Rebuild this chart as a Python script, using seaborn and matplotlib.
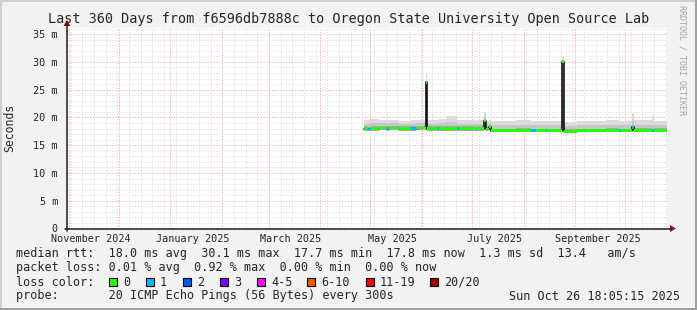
import numpy as np
import pandas as pd
import matplotlib
matplotlib.use("Agg")
import matplotlib.pyplot as plt
import matplotlib.dates as mdates
import seaborn as sns
from matplotlib.patches import Rectangle, Polygon
from matplotlib.lines import Line2D

# ---------------- data ----------------
range_start = "2024-10-31 18:05:15"
range_end = "2025-10-26 18:05:15"

seg_dates = ["2025-04-28", "2025-04-30", "2025-05-02", "2025-05-07", "2025-05-12",
             "2025-05-13", "2025-05-19", "2025-05-26", "2025-05-29", "2025-06-04",
             "2025-06-05", "2025-06-11", "2025-06-12", "2025-06-16", "2025-06-23",
             "2025-06-24", "2025-07-04", "2025-07-05", "2025-07-09", "2025-07-10",
             "2025-07-12", "2025-07-13", "2025-07-20", "2025-07-28", "2025-08-06",
             "2025-08-09", "2025-08-15", "2025-08-16", "2025-08-25", "2025-08-26",
             "2025-09-03", "2025-09-12", "2025-09-20", "2025-09-28", "2025-09-29",
             "2025-10-06", "2025-10-07", "2025-10-12", "2025-10-18", "2025-10-19"]
median_ms = [18.0, 17.9, 18.0, 18.1, 18.0, 18.1, 18.0, 18.0, 18.1, 26.3,
             18.0, 18.0, 18.0, 18.0, 18.0, 18.0, 17.9, 18.0, 19.4, 17.9,
             18.3, 17.6, 17.6, 17.7, 17.6, 17.6, 17.6, 17.6, 30.0, 17.5,
             17.6, 17.6, 17.7, 17.6, 17.6, 18.2, 17.7, 17.7, 17.6, 17.7]
loss_idx = [0, 1, 0, 0, 1, 0, 0, 1, 0, 0,
            0, 1, 0, 0, 1, 0, 1, 0, 0, 0,
            0, 0, 0, 0, 1, 0, 1, 0, 0, 0,
            0, 0, 0, 1, 0, 1, 0, 0, 1, 0]
smoke_lo = [17.6, 17.5, 17.6, 17.7, 17.6, 17.7, 17.6, 17.6, 17.7, 17.9,
            17.6, 17.6, 17.6, 17.6, 17.6, 17.6, 17.5, 17.6, 17.8, 17.5,
            17.8, 17.3, 17.3, 17.4, 17.3, 17.3, 17.3, 17.3, 17.6, 17.2,
            17.3, 17.3, 17.4, 17.3, 17.3, 17.6, 17.4, 17.4, 17.3, 17.4]
smoke_q1 = [18.4, 18.3, 18.4, 18.5, 18.4, 18.5, 18.4, 18.4, 18.5, 20.0,
            18.4, 18.4, 18.4, 18.4, 18.4, 18.4, 18.3, 18.4, 19.6, 18.3,
            18.6, 18.0, 18.0, 18.1, 18.0, 18.0, 18.0, 18.0, 20.0, 17.9,
            18.0, 18.0, 18.1, 18.0, 18.0, 18.6, 18.1, 18.1, 18.0, 18.1]
smoke_q2 = [18.9, 18.9, 19.0, 19.0, 18.9, 19.0, 18.9, 18.9, 19.0, 24.0,
            18.9, 18.9, 19.0, 19.1, 18.9, 18.9, 18.8, 18.9, 20.2, 18.8,
            19.0, 18.6, 18.6, 18.7, 18.6, 18.6, 18.6, 18.6, 24.0, 18.5,
            18.6, 18.6, 18.7, 18.6, 18.6, 19.3, 18.7, 18.7, 18.7, 18.7]
smoke_hi = [19.5, 19.6, 19.7, 19.5, 19.5, 19.6, 19.4, 19.6, 19.5, 28.0,
            19.5, 19.5, 19.7, 20.2, 19.6, 19.5, 19.4, 19.5, 21.0, 19.4,
            19.6, 19.3, 19.4, 19.6, 19.3, 19.3, 19.4, 19.3, 30.8, 19.2,
            19.3, 19.4, 19.5, 19.3, 19.4, 20.8, 19.5, 19.5, 20.4, 19.4]

y_ticks = [0, 5, 10, 15, 20, 25, 30, 35]
y_tick_labels = ["0", "5 m", "10 m", "15 m", "20 m", "25 m", "30 m", "35 m"]
x_label_dates = ["2024-11-15", "2025-01-15", "2025-03-15", "2025-05-15", "2025-07-15", "2025-09-15"]
x_label_texts = ["November 2024", "January 2025", "March 2025", "May 2025", "July 2025", "September 2025"]

loss_labels = ["0", "1", "2", "3", "4-5", "6-10", "11-19", "20/20"]
loss_colors = ["#26ff00", "#00b8ff", "#0059ff", "#7e00ff", "#ff00ff", "#ff5500", "#ff0000", "#a10000"]

title = "Last 360 Days from f6596db7888c to Oregon State University Open Source Lab"
stats_rtt = "median rtt:  18.0 ms avg  30.1 ms max  17.7 ms min  17.8 ms now  1.3 ms sd  13.4   am/s"
stats_loss = "packet loss: 0.01 % avg  0.92 % max  0.00 % min  0.00 % now"
probe_txt = "probe:       20 ICMP Echo Pings (56 Bytes) every 300s"
stamp_txt = "Sun Oct 26 18:05:15 2025"

# ---------------- style ----------------
W, H = 697, 310
sns.set_style("white")
MONO = ["DejaVu Sans Mono"]
plt.rcParams["font.family"] = MONO
BACK = "#f2f2f2"

fig = plt.figure(figsize=(W / 100, H / 100), dpi=100, facecolor=BACK)


def fx(px):
    return px / W


def fy(py):
    return 1 - py / H


AX_L, AX_R, AX_T, AX_B = 67, 667, 28, 228.5
ax = fig.add_axes([fx(AX_L), fy(AX_B), (AX_R - AX_L) / W, (AX_B - AX_T) / H])
ax.set_facecolor("white")
for s in ax.spines.values():
    s.set_visible(False)

t0 = pd.Timestamp(range_start)
t1 = pd.Timestamp(range_end)
ax.set_xlim(t0, t1)
ax.set_ylim(0, 36.1)

# grid
dash = (0, (1.4, 1.4))
GRID_MINOR = "#e2e2e2"
GRID_MAJOR = "#ffb4b4"
for d in pd.date_range(t0, t1, freq="W-SUN").normalize():
    ax.axvline(d, color=GRID_MINOR, lw=0.72, ls=dash, zorder=0)
for v in range(0, 37):
    if v % 5:
        ax.axhline(v, color=GRID_MINOR, lw=0.72, ls=dash, zorder=0)
for d in pd.date_range(t0, t1, freq="MS"):
    ax.axvline(d, color=GRID_MAJOR, lw=0.72, ls=dash, zorder=0.5)
for v in y_ticks[1:]:
    ax.axhline(v, color=GRID_MAJOR, lw=0.72, ls=dash, zorder=0.5)

# data frame
df = pd.DataFrame({"date": pd.to_datetime(seg_dates), "median": median_ms, "loss": loss_idx,
                   "lo": smoke_lo, "q1": smoke_q1, "q2": smoke_q2, "hi": smoke_hi})
edges = list(df["date"]) + [t1]
ext = lambda col: list(df[col]) + [df[col].iloc[-1]]

ax.fill_between(edges, ext("lo"), ext("hi"), step="post", color="#dcdcdc", lw=0, zorder=1)
ax.fill_between(edges, ext("lo"), ext("q2"), step="post", color="#c6c6c6", lw=0, zorder=1.1)
ax.fill_between(edges, ext("lo"), ext("q1"), step="post", color="#a8a8a8", lw=0, zorder=1.2)

line_df = pd.DataFrame({"date": edges, "median": ext("median")})
sns.lineplot(data=line_df, x="date", y="median", drawstyle="steps-post", color="#111111",
             lw=1.2, estimator=None, ax=ax, zorder=2)

xnum = mdates.date2num(df["date"])
widths = np.diff(mdates.date2num(edges))
ax.bar(xnum, 0.5, width=widths, bottom=df["median"] - 0.25, align="edge",
       color=[loss_colors[i] for i in df["loss"]], lw=0, zorder=3)

# ticks
ax.set_yticks(y_ticks)
ax.set_yticklabels(y_tick_labels)
ax.set_xticks(pd.to_datetime(x_label_dates))
ax.set_xticklabels(x_label_texts)
ax.tick_params(axis="y", length=2, width=0.72, color="#222222", pad=4.5, labelsize=7.3)
ax.tick_params(axis="x", length=0, pad=3.8, labelsize=7.3)
ax.set_xlabel("")
ax.set_ylabel("")

# axes lines & arrows (figure coords)
axis_col = "#1c1c1c"
arrow_col = "#9a1010"
fig.add_artist(Line2D([fx(AX_L - 2), fx(671)], [fy(AX_B), fy(AX_B)], color=axis_col, lw=1.1))
fig.add_artist(Line2D([fx(AX_L), fx(AX_L)], [fy(AX_B + 2), fy(24)], color=axis_col, lw=1.1))
fig.add_artist(Polygon([[fx(670), fy(AX_B - 3.5)], [fx(670), fy(AX_B + 3.5)], [fx(676), fy(AX_B)]],
                       closed=True, color=arrow_col, lw=0))
fig.add_artist(Polygon([[fx(AX_L - 3.5), fy(26)], [fx(AX_L + 3.5), fy(26)], [fx(AX_L), fy(20)]],
                       closed=True, color=arrow_col, lw=0))

# texts
fig.text(0.5, fy(19), title, ha="center", va="center", fontsize=9.75, family=MONO)
fig.text(fx(10), fy(128), "Seconds", rotation=90, ha="center", va="center", fontsize=8.3, family=MONO)
fig.text(fx(682), fy(5), "RRDTOOL / TOBI OETIKER", rotation=270, ha="center", va="top",
         fontsize=6, color="#a4a4a4", family=MONO)

LS = 8.5
fig.text(fx(16), fy(254), stats_rtt, ha="left", va="center", fontsize=LS, family=MONO)
fig.text(fx(16), fy(268), stats_loss, ha="left", va="center", fontsize=LS, family=MONO)
fig.text(fx(16), fy(282), "loss color:", ha="left", va="center", fontsize=LS, family=MONO)
box_x = [109, 146, 183, 220, 257, 307, 366, 430]
for bx, lab, col in zip(box_x, loss_labels, loss_colors):
    fig.add_artist(Rectangle((fx(bx), fy(286)), 8 / W, 8 / H, facecolor=col, edgecolor="black", lw=0.8))
    fig.text(fx(bx + 14), fy(282), lab, ha="left", va="center", fontsize=LS, family=MONO)
fig.text(fx(16), fy(296), probe_txt, ha="left", va="center", fontsize=LS, family=MONO)
fig.text(fx(680), fy(296), stamp_txt, ha="right", va="center", fontsize=LS, family=MONO)

# frame
fig.add_artist(Line2D([0, 1], [fy(0.5), fy(0.5)], color="#cfcfcf", lw=1.4))
fig.add_artist(Line2D([fx(0.5), fx(0.5)], [0, 1], color="#cfcfcf", lw=1.4))
fig.add_artist(Line2D([0, 1], [fy(H - 1), fy(H - 1)], color="#9e9e9e", lw=1.4))
fig.add_artist(Line2D([fx(W - 1), fx(W - 1)], [0, 1], color="#9e9e9e", lw=1.4))

fig.savefig("out.png", dpi=100, facecolor=BACK)
